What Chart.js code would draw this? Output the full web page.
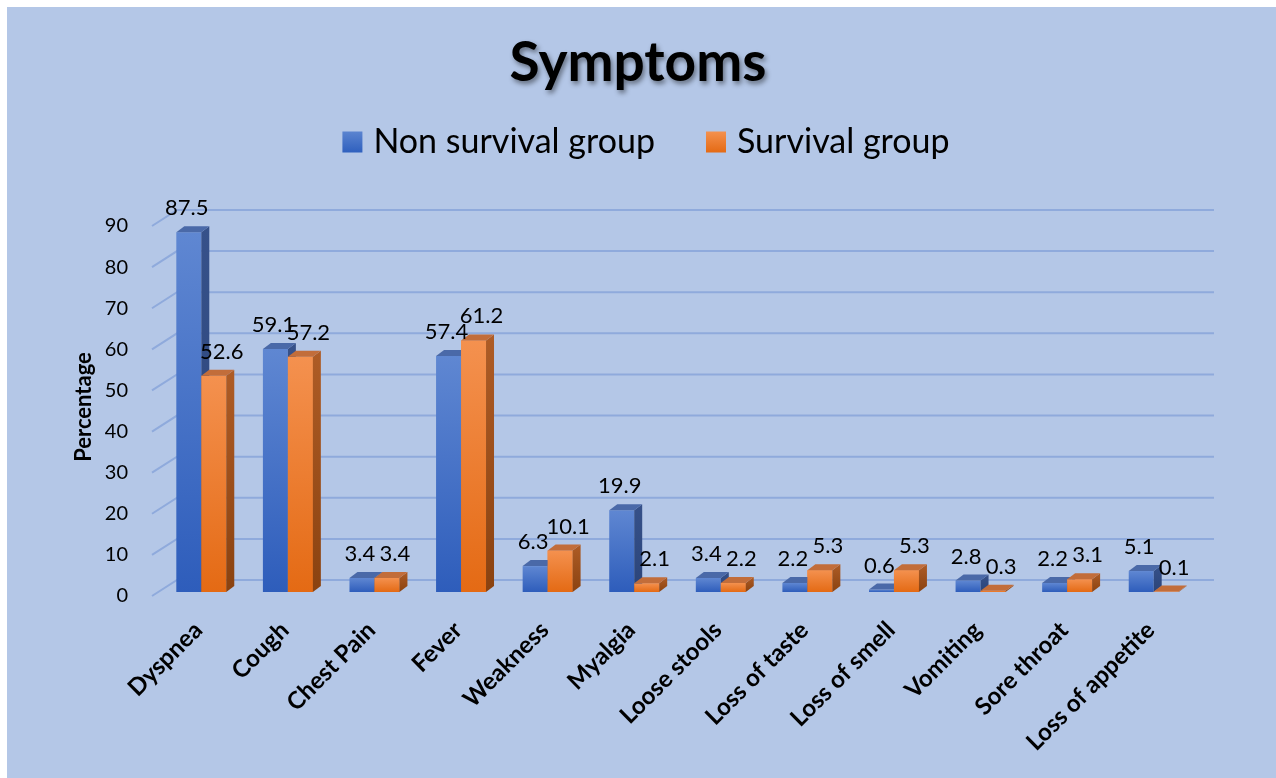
<!DOCTYPE html>
<html>
<head>
<meta charset="utf-8">
<script src="https://cdn.jsdelivr.net/npm/chart.js@4.4.1/dist/chart.umd.min.js"></script>
<style>
  html, body { margin: 0; padding: 0; background: #ffffff; }
  #wrap { width: 1276px; height: 778px; position: relative; }
  canvas { display: block; }
</style>
</head>
<body>
<div id="wrap"><canvas id="c" width="1276" height="778"></canvas></div>
<script>
// ---- data ----
const chartTitle = 'Symptoms';
const axisTitle = 'Percentage';
const categories = ['Dyspnea', 'Cough', 'Chest Pain', 'Fever', 'Weakness', 'Myalgia',
  'Loose stools', 'Loss of taste', 'Loss of smell', 'Vomiting', 'Sore throat', 'Loss of appetite'];
const seriesNames = ['Non survival group', 'Survival group'];
const nonSurvival = [87.5, 59.1, 3.4, 57.4, 6.3, 19.9, 3.4, 2.2, 0.6, 2.8, 2.2, 5.1];
const survival = [52.6, 57.2, 3.4, 61.2, 10.1, 2.1, 2.2, 5.3, 5.3, 0.3, 3.1, 0.1];
const yMin = 0, yMax = 90, yStep = 10;

// ---- style ----
const BG = '#B4C7E7';
const GRID = '#8FAADC';
const FONT = 'Lato, "Open Sans", sans-serif';
const palette = [
  { top: '#5F87D2', bottom: '#2E5DBB', side: '#36518A', sideDark: '#2B4479', cap: '#4A69A8', legend: ['#5B84D0', '#2F60BE'], labelShift: -2 },
  { top: '#F4914F', bottom: '#E46A14', side: '#AE5C26', sideDark: '#8A4210', cap: '#C26D3A', legend: ['#F4914F', '#E46A14'], labelShift: 8 }
];
const DX = 8, DY = 6;          // bar depth
const WDX = 19, WDY = 12;      // back wall depth

function frontFill(dsIndex) {
  return (ctx) => {
    const chart = ctx.chart;
    const p = palette[dsIndex];
    if (!chart.chartArea || ctx.raw === undefined) return p.bottom;
    const ys = chart.scales.y;
    const top = ys.getPixelForValue(ctx.raw);
    const bottom = ys.getPixelForValue(0);
    if (!(bottom > top)) return p.bottom;
    const g = chart.ctx.createLinearGradient(0, top, 0, bottom);
    g.addColorStop(0, p.top);
    g.addColorStop(1, p.bottom);
    return g;
  };
}

const backgroundPlugin = {
  id: 'bg',
  beforeDraw(chart) {
    const c = chart.ctx;
    c.save();
    c.fillStyle = '#ffffff';
    c.fillRect(0, 0, chart.width, chart.height);
    c.fillStyle = BG;
    c.fillRect(7, 7, chart.width - 7, chart.height - 7);
    c.restore();
  }
};

const headerPlugin = {
  id: 'header',
  afterDraw(chart) {
    const c = chart.ctx;
    c.save();
    // title with soft shadow
    c.font = 'bold 55px ' + FONT;
    c.textAlign = 'center';
    c.textBaseline = 'alphabetic';
    c.shadowColor = 'rgba(0,0,0,0.45)';
    c.shadowBlur = 5;
    c.shadowOffsetX = 2;
    c.shadowOffsetY = 3;
    c.fillStyle = '#000000';
    c.fillText(chartTitle, 638, 81);
    c.shadowColor = 'transparent';
    // legend
    c.font = '34px ' + FONT;
    c.textAlign = 'left';
    c.textBaseline = 'middle';
    const box = 20, boxH = 21, gap = 11, itemGap = 51;
    const widths = chart.data.datasets.map(d => c.measureText(d.label).width);
    let total = 0;
    widths.forEach((w, i) => { total += box + gap + w + (i < widths.length - 1 ? itemGap : 0); });
    let x = 646 - total / 2;
    const cy = 142;
    chart.data.datasets.forEach((d, i) => {
      const g = c.createLinearGradient(0, cy - boxH / 2, 0, cy + boxH / 2);
      g.addColorStop(0, palette[i].legend[0]);
      g.addColorStop(1, palette[i].legend[1]);
      c.fillStyle = g;
      c.fillRect(x, cy - boxH / 2, box, boxH);
      c.fillStyle = '#000000';
      c.fillText(d.label, x + box + gap, cy);
      x += box + gap + widths[i] + itemGap;
    });
    c.restore();
  }
};

const wallPlugin = {
  id: 'wall',
  beforeDatasetsDraw(chart) {
    const c = chart.ctx;
    const ys = chart.scales.y;
    const { left, right } = chart.chartArea;
    c.save();
    c.strokeStyle = GRID;
    c.lineWidth = 2;
    ys.ticks.forEach(t => {
      const y = ys.getPixelForValue(t.value);
      c.beginPath();
      c.moveTo(left - 6, y + 4);
      c.lineTo(left + WDX, y - WDY);
      c.lineTo(right + 17, y - WDY);
      c.stroke();
    });
    c.restore();
  }
};

function drawFaces(c, bar, p) {
  const props = bar.getProps(['x', 'y', 'base', 'width'], true);
  const l = props.x - props.width / 2, r = props.x + props.width / 2;
  const top = Math.min(props.y, props.base), bot = Math.max(props.y, props.base);
  let g = c.createLinearGradient(0, top - DY, 0, bot);
  g.addColorStop(0, p.side);
  g.addColorStop(1, p.sideDark);
  c.fillStyle = g;
  c.beginPath();
  c.moveTo(r, top);
  c.lineTo(r + DX, top - DY);
  c.lineTo(r + DX, bot - DY);
  c.lineTo(r, bot);
  c.closePath();
  c.fill();
  c.fillStyle = p.cap;
  c.beginPath();
  c.moveTo(l, top);
  c.lineTo(l + DX, top - DY);
  c.lineTo(r + DX, top - DY);
  c.lineTo(r, top);
  c.closePath();
  c.fill();
}

const depthPlugin = {
  id: 'depth',
  afterDatasetsDraw(chart) {
    const c = chart.ctx;
    const m0 = chart.getDatasetMeta(0), m1 = chart.getDatasetMeta(1);
    c.save();
    m0.data.forEach((bar, i) => {
      drawFaces(c, bar, palette[0]);
      const ob = m1.data[i];
      ob.draw(c);
      drawFaces(c, ob, palette[1]);
    });
    c.font = '22px ' + FONT;
    c.fillStyle = '#000000';
    c.textAlign = 'center';
    c.textBaseline = 'middle';
    [m0, m1].forEach((m, di) => {
      m.data.forEach((bar, i) => {
        const v = chart.data.datasets[di].data[i];
        c.fillText(String(v), bar.x + palette[di].labelShift, bar.y - 24);
      });
    });
    c.restore();
  }
};

new Chart(document.getElementById('c'), {
  type: 'bar',
  data: {
    labels: categories,
    datasets: [
      { label: seriesNames[0], data: nonSurvival, backgroundColor: frontFill(0), borderWidth: 0 },
      { label: seriesNames[1], data: survival, backgroundColor: frontFill(1), borderWidth: 0 }
    ]
  },
  options: {
    responsive: false,
    animation: false,
    devicePixelRatio: 1,
    layout: { padding: { top: 222, left: 0, right: 79, bottom: 0 } },
    datasets: { bar: { categoryPercentage: 0.577, barPercentage: 1.0 } },
    plugins: {
      legend: { display: false },
      title: { display: false },
      tooltip: { enabled: false }
    },
    scales: {
      x: {
        grid: { display: false, drawTicks: false },
        border: { display: false },
        ticks: {
          autoSkip: false, minRotation: 45, maxRotation: 45, padding: 24, labelOffset: -3,
          color: '#000000', font: { family: FONT, size: 24, weight: 'bold' }
        },
        afterFit(s) { s.height = 186; }
      },
      y: {
        min: yMin, max: yMax,
        grid: { display: false, drawTicks: false },
        border: { display: false },
        ticks: { stepSize: yStep, padding: 30, labelOffset: 4, color: '#000000', font: { family: FONT, size: 20 } },
        title: { display: true, text: axisTitle, color: '#000000', padding: { top: 71, bottom: 0 },
                 font: { family: FONT, size: 22, weight: 'bold' } },
        afterFit(s) { s.width = 158; }
      }
    }
  },
  plugins: [backgroundPlugin, wallPlugin, depthPlugin, headerPlugin]
});
</script>
</body>
</html>
